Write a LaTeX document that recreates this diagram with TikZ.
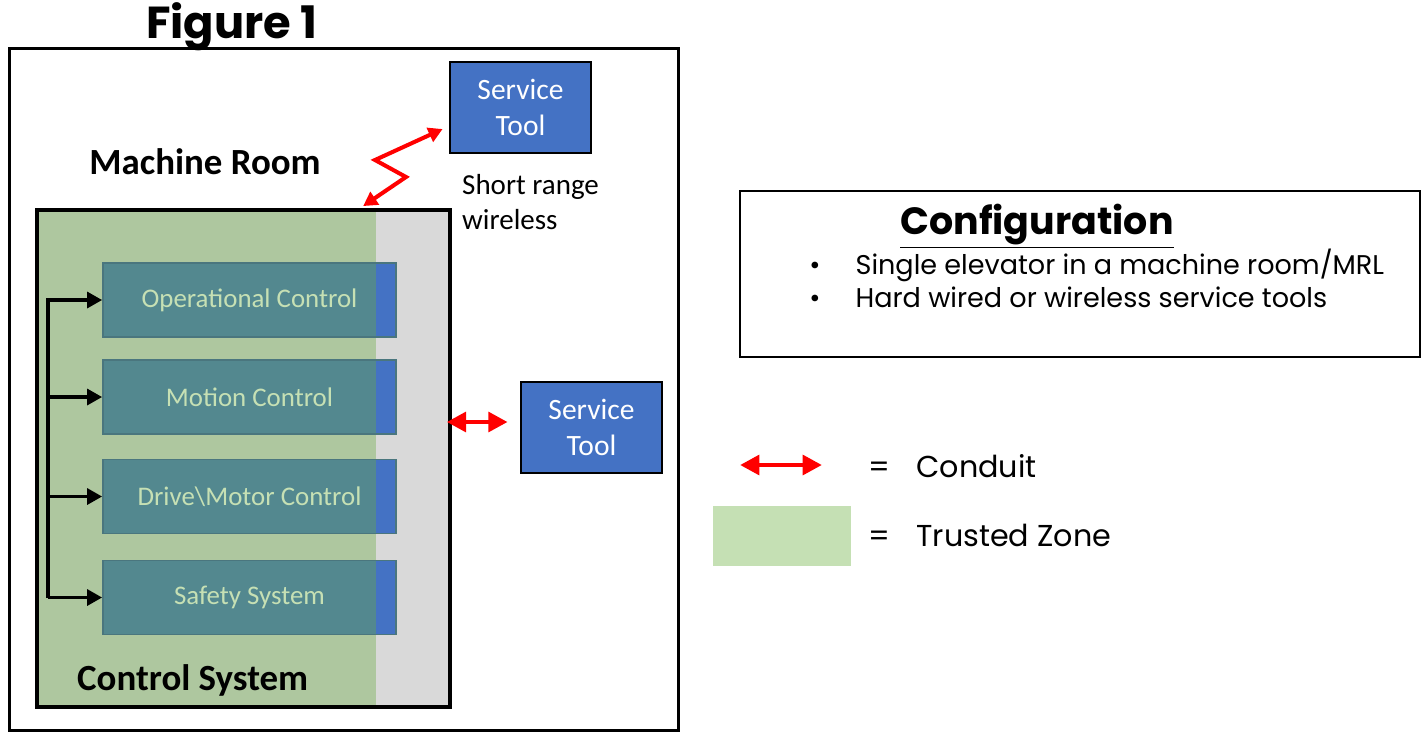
\documentclass[tikz,border=0pt]{standalone}
\usepackage{fontspec}
\setmainfont{Carlito}
\newfontfamily\popfont{Poppins}
\usetikzlibrary{arrows.meta,calc}

\definecolor{toolblue}{HTML}{4472C4}
\definecolor{zonegray}{HTML}{D9D9D9}
\definecolor{trusted}{HTML}{AEC79F}
\definecolor{legendgreen}{HTML}{C5E0B4}
\definecolor{blockteal}{HTML}{53888F}
\definecolor{blockedge}{HTML}{4A767E}
\definecolor{blocktext}{HTML}{C6E0B4}

\begin{document}
\begin{tikzpicture}[
		x=0.02cm, y=-0.02cm,
		tool/.style={draw, line width=1.2pt, fill=toolblue, text=white, align=center,
			minimum width=2.82cm, minimum height=1.82cm, font=\fontsize{16.8}{20.4}\selectfont},
		ctrlbox/.style={draw, line width=2.3pt, fill=zonegray, minimum width=8.26cm, minimum height=9.94cm,
			path picture={\fill[trusted] (path picture bounding box.north west) rectangle (zoneedge |- path picture bounding box.south);}},
		blockbox/.style={draw=blockedge, line width=1pt, fill=blockteal, text=blocktext,
			minimum width=5.86cm, minimum height=1.48cm, font=\fontsize{15.3}{18}\selectfont,
			path picture={\fill[toolblue] (zoneedge |- path picture bounding box.north) rectangle (path picture bounding box.south east);}},
		conduit/.style={draw=red, line width=2.8pt, {Triangle[length=11pt,width=11pt]}-{Triangle[length=11pt,width=11pt]}},
		wireless/.style={draw=red, line width=2.3pt, line join=miter, {Triangle[length=8pt,width=8.5pt]}-{Triangle[length=8pt,width=8.5pt]}},
		busline/.style={draw, line width=1.9pt, line join=miter, -{Triangle[length=8.5pt,width=9pt]}}
	]
	\useasboundingbox (0,0) rectangle (1425,734);

	% machine room
	\node (title) at (232,27) {\popfont\bfseries\fontsize{25.5}{30}\selectfont Figure 1};
	\draw[line width=1.7pt] (9.5,48.5) rectangle (678.5,730.5);
	\node (room) at (205,162) {\bfseries\fontsize{21}{25}\selectfont Machine Room};

	\node[tool] (st1) at (520.5,107.5) {Service\\Tool};
	\node[anchor=west, align=left, font=\fontsize{16.5}{19.8}\selectfont] (range) at (456,202) {Short range\\wireless};

	% control system
	\coordinate (zoneedge) at (376,0);
	\node[ctrlbox] (ctrl) at (243.5,458.5) {};
	\node[anchor=west] (ctrllabel) at (71,680) {\bfseries\fontsize{21}{25}\selectfont Control System};

	\node[blockbox] (opc) at (249.5,300) {Operational Control};
	\node[blockbox] (motc) at (249.5,397) {Motion Control};
	\node[blockbox] (drvc) at (249.5,496.5) {Drive\textbackslash Motor Control};
	\node[blockbox] (safc) at (249.5,597.5) {Safety System};

	\coordinate (bus) at (48,0);
	\draw[busline] (bus |- safc.west) -- (bus |- opc.west) -- (opc.west);
	\foreach \b in {motc,drvc,safc}
		\draw[busline] (bus |- \b.west) -- (\b.west);

	\node[tool] (st2) at (591.5,427.5) {Service\\Tool};
	\draw[conduit, shorten <=-3pt, shorten >=7pt] (ctrl.east |- 0,422) -- (st2.west |- 0,422);
	\draw[wireless, shorten <=4pt, shorten >=2pt] ($(st1.west)!0.4!(st1.south west)$) -- (375,160) -- (406,177)
		-- ($(ctrl.north west)!0.78!(ctrl.north east)$);

	% configuration
	\draw[line width=1.1pt] (740,191) rectangle (1420,357);
	\node (cfgtitle) at (1037,226) {\popfont\bfseries\fontsize{21.6}{26}\selectfont\underline{Configuration}};
	\node[anchor=west, inner sep=0pt] (cfglist) at (809,283) {\popfont\fontsize{15.4}{18.7}\selectfont
		\begin{tabular}{@{}l@{\hspace{20pt}}l@{}}
			\textbullet & Single elevator in a machine room/MRL\\
			\textbullet & Hard wired or wireless service tools
		\end{tabular}};

	% legend
	\coordinate (lega) at (740,465);
	\coordinate (legb) at (822,465);
	\draw[conduit] (lega) -- (legb);
	\node[anchor=west, font=\popfont\fontsize{17.2}{20}\selectfont] (legconduit) at (862,466) {=\hspace{15pt}Conduit};
	\node[fill=legendgreen, minimum width=2.76cm, minimum height=1.2cm] (legzone) at (782,536) {};
	\node[anchor=west, font=\popfont\fontsize{17.2}{20}\selectfont] (legtrusted) at (862,535) {=\hspace{15pt}Trusted Zone};
\end{tikzpicture}
\end{document}
